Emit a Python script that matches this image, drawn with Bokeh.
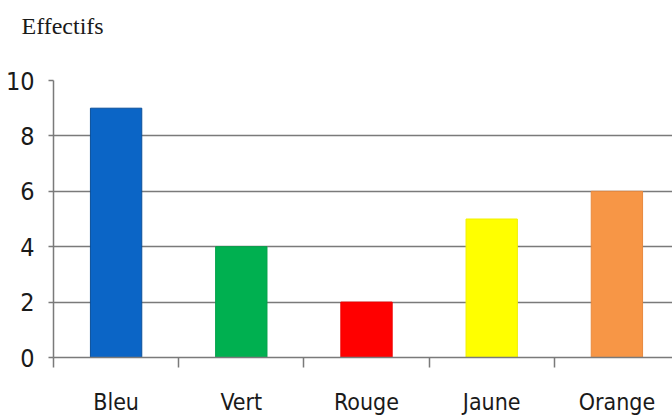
from bokeh.plotting import figure
from bokeh.models import Range1d, FixedTicker, ColumnDataSource
from bokeh.embed import file_html
from bokeh.resources import INLINE

categories = ["Bleu", "Vert", "Rouge", "Jaune", "Orange"]
values = [9, 4, 2, 5, 6]
fill_colors = ["#0B65C6", "#00B050", "#FF0000", "#FFFF00", "#F79646"]
edge_colors = ["#0A4F9A", "#00A048", "#EE0000", "#F0F000", "#E8893E"]
y_ticks = [0, 2, 4, 6, 8, 10]
title_text = "Effectifs"

positions = [i + 0.5 for i in range(len(categories))]
src = ColumnDataSource(dict(x=positions, top=values, fill=fill_colors, edge=edge_colors))

p = figure(width=672, height=417, output_backend="svg", toolbar_location=None,
           x_range=Range1d(0, 4.944), y_range=Range1d(0, 10),
           min_border_left=53, min_border_right=0, min_border_top=80, min_border_bottom=60)

p.vbar(x="x", top="top", bottom=0, width=0.41, source=src,
       fill_color="fill", line_color="edge", line_width=1)

grey = "#7a7a7a"
label_font = "DejaVu Sans Condensed, Roboto Condensed, Roboto"
p.outline_line_color = None
p.background_fill_color = "white"
p.border_fill_color = "white"

p.xgrid.visible = False
p.ygrid.ticker = FixedTicker(ticks=y_ticks)
p.ygrid.grid_line_color = grey
p.ygrid.grid_line_width = 1.6

xa = p.xaxis[0]
xa.ticker = FixedTicker(ticks=positions, minor_ticks=[0, 1, 2, 3, 4, 5])
xa.major_label_overrides = {pos: name for pos, name in zip(positions, categories)}
xa.major_tick_out = 0
xa.major_tick_in = 0
xa.minor_tick_out = 10
xa.minor_tick_in = 0
xa.minor_tick_line_color = grey
xa.minor_tick_line_width = 1.5
xa.axis_line_color = grey
xa.axis_line_width = 1.5
xa.major_label_standoff = 21
xa.major_label_text_font = label_font
xa.major_label_text_font_size = "23px"
xa.major_label_text_color = "#1a1a1a"

ya = p.yaxis[0]
ya.ticker = FixedTicker(ticks=y_ticks)
ya.major_tick_out = 5
ya.major_tick_in = 0
ya.minor_tick_out = 0
ya.minor_tick_in = 0
ya.major_tick_line_color = grey
ya.major_tick_line_width = 1.5
ya.axis_line_color = grey
ya.axis_line_width = 1.5
ya.major_label_standoff = 14
ya.major_label_text_font = label_font
ya.major_label_text_font_size = "25px"
ya.major_label_text_color = "#1a1a1a"

p.title.text = title_text + "\n "
p.title.align = "left"
p.title.offset = -32
p.title.text_font = "Liberation Serif"
p.title.text_font_size = "24px"
p.title.text_line_height = 1.6
p.title.text_font_style = "normal"
p.title.text_color = "#1a1a1a"
p.title.standoff = 0

open("out.html", "w").write(file_html(p, INLINE))
